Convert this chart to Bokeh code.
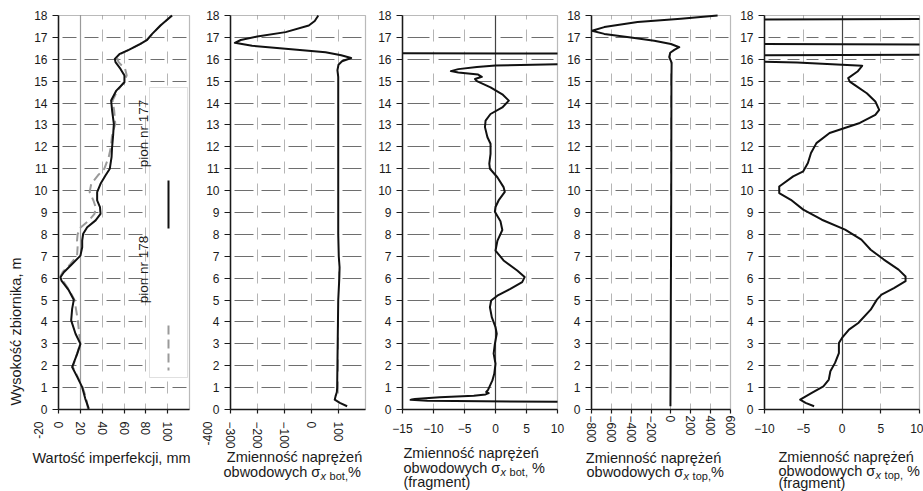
import math
from bokeh.plotting import figure
from bokeh.layouts import row
from bokeh.models import Range1d, FixedTicker, BoxAnnotation, Label, LinearAxis, Grid
from bokeh.embed import file_html
from bokeh.resources import INLINE

# ---------------- data ----------------
height_ticks = list(range(0, 19))

# panel 1: imperfection values, mm
imperf_177_h = [0.03, 0.5, 1.02, 1.5, 1.94, 2.54, 3.0, 3.46, 4.07, 4.6, 5.01, 5.44, 5.89, 6.04, 6.27, 6.65,
                7.03, 7.41, 7.72, 8.03, 8.33, 8.64, 8.94, 9.25, 9.55, 9.93, 10.31, 10.69, 11.0, 11.53, 11.99,
                12.5, 13.05, 13.66, 14.12, 14.57, 14.95, 15.26, 15.56, 15.87, 16.02, 16.25, 16.43, 16.7, 16.89,
                17.16, 17.54, 18.0]
imperf_177_mm = [27.8, 24.5, 21.7, 17.0, 12.5, 17.1, 20.1, 15.6, 11.6, 12.5, 14.0, 9.5, 2.7, 1.8, 4.9, 12.5,
                 20.1, 21.7, 21.7, 22.6, 26.3, 34.0, 38.5, 38.0, 35.4, 35.4, 38.5, 43.0, 47.0, 48.6, 49.1,
                 50.0, 50.7, 49.1, 48.2, 53.0, 60.4, 60.4, 56.8, 52.2, 51.6, 56.2, 64.4, 75.1, 81.2,
                 85.8, 93.4, 104.0]
imperf_178_h = [0.03, 0.5, 1.02, 1.5, 1.94, 2.54, 3.0, 3.46, 4.07, 4.6, 5.01, 5.44, 5.89, 6.1, 6.3, 6.65,
                7.03, 7.41, 7.72, 8.0, 8.3, 8.64, 8.94, 9.25, 9.55, 9.93, 10.31, 10.69, 11.0, 11.53, 11.99,
                12.5, 13.05, 13.66, 14.12, 14.57, 14.95, 15.26, 15.56, 15.87, 16.02, 16.25, 16.43, 16.7, 16.89,
                17.16, 17.54, 18.0]
imperf_178_mm = [27.0, 25.5, 22.0, 17.5, 13.0, 17.0, 20.0, 19.0, 17.7, 16.0, 14.6, 10.0, 4.0, 1.9, 4.0, 11.0,
                 17.0, 17.5, 17.0, 17.5, 20.0, 28.0, 33.0, 34.0, 32.0, 28.5, 30.0, 36.0, 42.0, 46.0, 48.0,
                 49.0, 52.0, 51.0, 49.5, 54.0, 60.0, 62.5, 61.0, 55.0, 54.0, 57.0, 64.4, 75.0, 81.0,
                 86.0, 93.4, 104.0]
imperf_ticks = [0, 20, 40, 60, 80, 100]
imperf_extra_tick = "-20"

# panel 2: sigma x bot, %
sbot_h = [0.15, 0.3, 0.45, 0.6, 0.8, 1.0, 2.0, 3.0, 4.0, 5.0, 6.0, 6.5, 7.0, 8.0, 10.0, 12.0, 14.0, 15.2,
          15.5, 15.75, 15.91, 16.06, 16.18, 16.32, 16.48, 16.62, 16.75, 16.88, 17.04, 17.24, 17.54, 17.75,
          17.92, 18.0]
sbot_pct = [132, 105, 86, 89, 94, 95, 96, 97, 98, 99, 103, 104, 101, 99, 99, 99, 99, 99,
            96, 100, 113, 147, 110, 52, -96, -220, -284, -262, -201, -96, -10, 12,
            21, 25]
sbot_ticks = [-300, -200, -100, 0, 100]
sbot_extra_tick = "-400"

# panel 3: sigma x bot, % (fragment)
sbot_frag_h = [0.15, 0.3, 0.35, 0.4, 0.44, 0.48, 0.56, 0.63, 0.69, 0.75, 0.8, 0.9, 1.02, 1.33, 1.63, 2.09,
               2.55, 3.0, 3.46, 3.76, 4.22, 4.67, 4.98, 5.2, 5.51, 5.82, 6.05, 6.35, 6.81, 7.26, 7.7, 8.2,
               8.6, 9.03, 9.25, 9.55, 9.94, 10.16, 10.61, 11.0, 11.23, 11.68, 12.14, 12.44, 12.9, 13.2,
               13.5, 13.8, 14.11, 14.4, 14.72, 15.0, 15.1, 15.2, 15.3, 15.4, 15.46, 15.55, 15.65, 15.72,
               15.78, 16.0, 16.25, 16.3, 16.5, 17.0, 18.0]
sbot_frag_pct = [35, 32, 10.5, -11, -13.7, -13, -9, -3.5, -1.6, -1.1, -1.5, -1.2, -1.0, -0.5, -0.2, 0,
                 -0.3, -0.1, 0.2, 0, -0.6, -0.9, -0.7, 0.3, 2.4, 4.3, 4.7, 3.5, 1.3, 0, 0.3, 1.1,
                 0.8, -0.1, 0, 0.5, 1.5, 1.3, 0.3, -0.9, -1.0, -0.8, -0.8, -1.3, -1.7, -1.6,
                 -0.8, 1.1, 2.15, 1.1, -0.8, -3.0, -3.3, -2.2, -2.8, -6.0, -7.2, -6.0, -3.0, 0,
                 12, 47, 30, -60, -196, -301, -75]
sbot_frag_ticks = [-15, -10, -5, 0, 5, 10]

# panel 4: sigma x top, %
stop_h = [0.15, 2.0, 5.0, 8.0, 12.0, 15.0, 15.85, 16.1, 16.3, 16.43, 16.55, 16.7, 16.85, 17.0, 17.16,
          17.3, 17.47, 17.7, 17.85, 18.0]
stop_pct = [-5, -3, -1, 2, 4, 5, 7, -17, -7, 34, 84, 0, -168, -403, -671,
            -795, -671, -336, 100, 470]
stop_ticks = [-800, -600, -400, -200, 0, 200, 400, 600]

# panel 5: sigma x top, % (fragment)
stop_frag_h = [0.15, 0.3, 0.45, 0.76, 1.06, 1.37, 1.75, 2.13, 2.58, 3.04, 3.27, 3.65, 3.95, 4.56, 5.02,
               5.25, 5.55, 5.86, 6.08, 6.39, 6.85, 7.3, 7.76, 8.22, 8.67, 9.13, 9.58, 9.89, 10.19, 10.65,
               10.88, 11.26, 11.72, 12.17, 12.63, 13.09, 13.46, 13.69, 14.07, 14.45, 14.76, 14.98, 15.14,
               15.44, 15.7, 15.85, 15.9, 15.95, 16.15, 16.25, 16.55, 16.65, 16.72, 17.0, 17.3, 17.7,
               17.8, 17.86, 18.0]
stop_frag_pct = [-3.6, -4.7, -5.4, -3.9, -2.4, -1.7, -1.5, -0.9, -0.4, -0.4, 0, 0.9, 2.1, 3.7, 4.5,
                 5.1, 6.7, 8.2, 8.2, 7.3, 5.4, 3.7, 2.5, 0.4, -2.6, -5.0, -6.6, -8.1, -8.1, -6.3,
                 -5.0, -4.4, -4.0, -3.3, -1.6, 2.3, 4.3, 4.8, 4.3, 3.2, 1.9, 1.0, 0.8,
                 2.0, 2.6, -5.8, -12, -40, -30, 40, 84, 40, -40, -403, -806, -336,
                 -40, 40, 470]
stop_frag_ticks = [-10, -5, 0, 5, 10]

legend_names = ["pion nr 177", "pion nr 178"]
axis_title_y = "Wysokość zbiornika, m"
axis_title_imperf = "Wartość imperfekcji, mm"
title_line1 = "Zmienność naprężeń"
fragment_txt = "(fragment)"

# ---------------- styling / layout ----------------
FONT = "Liberation Sans"
TXT = "#1a1a1a"
AX = "#1a1a1a"
HGRID = "#6e6e6e"
VGRID = "#b5b5b5"
CURVE = "#111111"
GRAYC = "#9a9a9a"
FIG_H = 491
FRAME_TOP_PX = 15
FRAME_BOT_PX = 409
PX_PER_M = (FRAME_BOT_PX - FRAME_TOP_PX) / 18.0
HAS_CROSS = "cross_bounds" in Grid.properties()

CW = {'o': 556, 'b': 556, 'w': 722, 'd': 556, 'y': 500, 'c': 500, 'h': 556, ' ': 278, 'σ': 600,
      'x': 500, 't': 278, ',': 278, '%': 889, 'p': 556}


def text_w(s, size):
    return sum(CW.get(c, 556) for c in s) / 1000.0 * size


def h_at(sy):
    return (FRAME_BOT_PX - sy) / PX_PER_M


def make_cfg(start, width, fl, fr, x0, x1):
    dpp = (x1 - x0) / (fr - fl)
    return dict(start=start, width=width, fl=fl, fr=fr, x0=x0, x1=x1, dpp=dpp)


def x_at(cfg, sx):
    return cfg["x0"] + (sx - cfg["fl"]) * cfg["dpp"]


def clip_polyline(xs, ys, lo, hi):
    parts, cx, cy = [], [], []
    for i in range(len(xs)):
        x, y = xs[i], ys[i]
        if i > 0:
            px, py = xs[i - 1], ys[i - 1]
            hits = []
            for b in (lo, hi):
                if (px - b) * (x - b) < 0:
                    hits.append(((b - px) / (x - px), b))
            hits.sort()
            for t, b in hits:
                yy = py + t * (y - py)
                if cx:
                    cx.append(b); cy.append(yy)
                    parts.append((cx, cy)); cx, cy = [], []
                else:
                    cx, cy = [b], [yy]
        if lo <= x <= hi:
            cx.append(x); cy.append(y)
        elif cx:
            parts.append((cx, cy)); cx, cy = [], []
    if cx:
        parts.append((cx, cy))
    return [p[0] for p in parts], [p[1] for p in parts]


def add_text(p, cfg, sx, sy, text, size=14.5, align="left", angle=0.0, style="normal"):
    p.add_layout(Label(x=x_at(cfg, sx), y=h_at(sy), text=text, text_font=FONT,
                       text_font_size=f"{size}px", text_align=align, text_baseline="middle",
                       angle=angle, text_color=TXT, text_font_style=style))


def add_sigma_line(p, cfg, sx, sy, sub, pct_gap):
    main = "obwodowych σ"
    add_text(p, cfg, sx, sy, main)
    x = sx + text_w(main, 14.5) + 0.5
    add_text(p, cfg, x, sy + 4, "x", size=11, style="italic")
    x += text_w("x", 11) + text_w(" ", 11) + 0.5
    add_text(p, cfg, x, sy + 4, sub, size=11)
    x += text_w(sub, 11)
    if pct_gap:
        x += text_w(" ", 14.5)
    add_text(p, cfg, x, sy, "%")


def add_grid(p, cfg, dim, ticks, color, width, dash, offset):
    if HAS_CROSS:
        cb = (0, 18) if dim == 0 else (cfg["x0"], cfg["x1"])
        p.add_layout(Grid(dimension=dim, ticker=FixedTicker(ticks=ticks), grid_line_color=color,
                          grid_line_width=width, grid_line_dash=dash, grid_line_dash_offset=offset,
                          cross_bounds=cb, level="underlay"))
    else:
        n = len(ticks)
        if dim == 0:
            p.segment(x0=ticks, y0=[0] * n, x1=ticks, y1=[18] * n, line_color=color,
                      line_width=width, line_dash=dash, line_dash_offset=offset)
        else:
            p.segment(x0=[cfg["x0"]] * n, y0=ticks, x1=[cfg["x1"]] * n, y1=ticks, line_color=color,
                      line_width=width, line_dash=dash, line_dash_offset=offset)


def make_panel(cfg, ticks, grid_ticks, rotate, standoff, hdash, hoff, solid_at=None, solid_color=None):
    dpp = cfg["dpp"]
    xr = Range1d(cfg["x0"] - (cfg["fl"] - cfg["start"]) * dpp,
                 cfg["x1"] + (cfg["start"] + cfg["width"] - cfg["fr"]) * dpp)
    yr = Range1d(-(FIG_H - FRAME_BOT_PX) / PX_PER_M, 18 + FRAME_TOP_PX / PX_PER_M)
    p = figure(width=cfg["width"], height=FIG_H, x_range=xr, y_range=yr,
               x_axis_type=None, y_axis_type=None, title=None,
               output_backend="svg", toolbar_location=None,
               min_border_left=0, min_border_right=0, min_border_top=0, min_border_bottom=0)
    p.background_fill_color = "white"
    p.border_fill_color = "white"
    p.outline_line_color = None
    add_grid(p, cfg, 0, grid_ticks, VGRID, 1, "12 10", 6)
    add_grid(p, cfg, 1, list(range(1, 18)), HGRID, 1.2, hdash, hoff)
    if solid_at is not None:
        add_grid(p, cfg, 0, [solid_at], solid_color, 1.2, "solid", 0)
    xa = LinearAxis(fixed_location=0, bounds=(cfg["x0"], cfg["x1"]), ticker=FixedTicker(ticks=ticks))
    ya = LinearAxis(fixed_location=cfg["x0"], bounds=(0, 18), ticker=FixedTicker(ticks=height_ticks))
    for ax in (xa, ya):
        ax.axis_line_color = AX
        ax.axis_line_width = 1.5
        ax.major_tick_line_color = AX
        ax.major_tick_line_width = 1.2
        ax.major_tick_in = 0
        ax.minor_tick_line_color = None
        ax.major_label_text_font = FONT
        ax.major_label_text_font_size = "12px"
        ax.major_label_text_color = TXT
    xa.major_tick_out = 4
    ya.major_tick_out = 6
    ya.major_label_standoff = 5
    xa.major_label_standoff = standoff
    if rotate:
        xa.major_label_orientation = "vertical"
    p.add_layout(xa, "below")
    p.add_layout(ya, "left")
    p.add_layout(BoxAnnotation(left=cfg["x0"], right=cfg["x1"], bottom=0, top=18, fill_color=None,
                               line_color=AX, line_width=1.2))
    return p


def add_curve(p, cfg, xs, ys, color, dash="solid"):
    cxs, cys = clip_polyline(xs, ys, cfg["x0"], cfg["x1"])
    p.multi_line(xs=cxs, ys=cys, line_color=color, line_width=2, line_dash=dash, line_join="round")


cfg1 = make_cfg(0, 195, 58, 189, 0, 120)
cfg2 = make_cfg(195, 175, 230, 365, -300, 200)
cfg3 = make_cfg(370, 196, 402, 557, -15, 10)
cfg4 = make_cfg(566, 172, 591, 730, -800, 600)
cfg5 = make_cfg(738, 185, 764, 919, -10, 10)

# ---- panel 1 ----
p1 = make_panel(cfg1, imperf_ticks, [40, 60, 80, 100], True, 8, "14 8", 18, 20, "#9a9a9a")
p1.add_layout(BoxAnnotation(left=x_at(cfg1, 149), right=x_at(cfg1, 187), top=h_at(87), bottom=h_at(377),
                            fill_color="white", fill_alpha=1.0, line_color="#999999", line_width=1,
                            level="underlay"))
add_curve(p1, cfg1, imperf_178_mm, imperf_178_h, GRAYC, "9 5")
add_curve(p1, cfg1, imperf_177_mm, imperf_177_h, CURVE)
# legend keys
p1.segment(x0=[x_at(cfg1, 168)], y0=[h_at(180)], x1=[x_at(cfg1, 168)], y1=[h_at(228)],
           line_color=CURVE, line_width=2)
p1.segment(x0=[x_at(cfg1, 168)], y0=[h_at(325)], x1=[x_at(cfg1, 168)], y1=[h_at(370)],
           line_color=GRAYC, line_width=2, line_dash="9 5")
add_text(p1, cfg1, 143, 133, legend_names[0], size=13.5, align="center", angle=math.pi / 2)
add_text(p1, cfg1, 143, 269, legend_names[1], size=13.5, align="center", angle=math.pi / 2)
add_text(p1, cfg1, 38, 421, imperf_extra_tick, size=12, align="right", angle=math.pi / 2)
add_text(p1, cfg1, 15, 331, axis_title_y, size=14.5, align="center", angle=math.pi / 2)
add_text(p1, cfg1, 111, 457, axis_title_imperf, size=14.5, align="center")

# ---- panel 2 ----
p2 = make_panel(cfg2, sbot_ticks, [-200, -100, 0, 100], True, 8, "19 8", 23)
add_curve(p2, cfg2, sbot_pct, sbot_h, CURVE)
add_text(p2, cfg2, 207, 421, sbot_extra_tick, size=12, align="right", angle=math.pi / 2)
add_text(p2, cfg2, 294, 456, title_line1, align="center")
add_sigma_line(p2, cfg2, 223, 471, "bot,", False)

# ---- panel 3 ----
p3 = make_panel(cfg3, sbot_frag_ticks, [-10, -5, 5], False, 10, "22 9", 26, 0, "#444444")
add_curve(p3, cfg3, sbot_frag_pct, sbot_frag_h, CURVE)
add_text(p3, cfg3, 403, 452, title_line1)
add_sigma_line(p3, cfg3, 403, 467, "bot,", True)
add_text(p3, cfg3, 403, 481, fragment_txt)

# ---- panel 4 ----
p4 = make_panel(cfg4, stop_ticks, [-600, -400, -200, 0, 200, 400], True, 2, "13 7", 16)
add_curve(p4, cfg4, stop_pct, stop_h, CURVE)
add_text(p4, cfg4, 653, 457, title_line1, align="center")
add_sigma_line(p4, cfg4, 586, 471, "top,", False)

# ---- panel 5 ----
p5 = make_panel(cfg5, stop_frag_ticks, [-5, 5], False, 10, "12 7", 15, 0, "#444444")
add_curve(p5, cfg5, stop_frag_pct, stop_frag_h, CURVE)
add_text(p5, cfg5, 778, 456, title_line1)
add_sigma_line(p5, cfg5, 778, 470, "top,", True)
add_text(p5, cfg5, 778, 482, fragment_txt)

layout = row(p1, p2, p3, p4, p5, spacing=0)
open("out.html", "w").write(file_html(layout, INLINE))
